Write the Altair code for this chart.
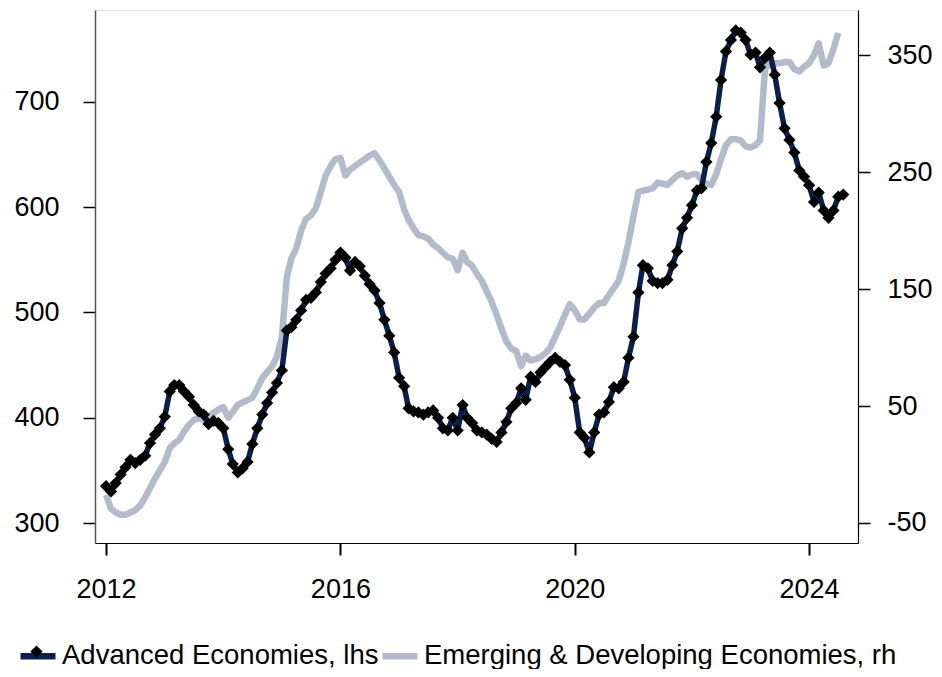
import altair as alt
import pandas as pd

ADV_LABEL = "Advanced Economies, lhs"
EMG_LABEL = "Emerging & Developing Economies, rh"

# Monthly values from Jan 2012
adv = [
    335, 330, 338, 346, 353, 360, 357, 360, 364, 376, 384, 390,   # 2012
    401, 425, 431, 431, 425, 420, 412, 406, 403, 394, 397, 395,   # 2013
    390, 370, 356, 348, 352, 358, 375, 390, 403, 414, 424, 433,   # 2014
    445, 483, 486, 493, 502, 512, 514, 519, 529, 537, 542, 550,   # 2015
    557, 552, 540, 548, 544, 535, 527, 521, 509, 493, 478, 462,   # 2016
    438, 430, 409, 406, 405, 403, 405, 407, 400, 390, 388, 400,   # 2017
    388, 412, 400, 395, 388, 386, 384, 380, 377, 386, 396, 409,   # 2018
    414, 428, 417, 439, 434, 443, 448, 453, 457, 453, 450, 436,   # 2019
    419, 386, 381, 367, 386, 403, 405, 415, 429, 428, 434, 457,   # 2020
    477, 519, 545, 542, 530, 528, 528, 531, 545, 558, 580, 590,   # 2021
    602, 616, 618, 643, 661, 686, 721, 748, 759, 768, 766, 759,   # 2022
    745, 747, 733, 742, 747, 726, 699, 675, 664, 652, 635, 629,   # 2023
    621, 605, 614, 597, 590, 597, 610, 612,                       # 2024
]

emg = [
    -26, -38, -41, -43, -43, -41, -39, -35, -28, -20, -12, -5,    # 2012
    2, 14, 18, 21, 28, 34, 38, 40, 38, 41, 44, 47,                # 2013
    49, 40, 45, 51, 53, 55, 57, 65, 74, 79, 84, 92,               # 2014
    109, 160, 176, 185, 200, 210, 213, 219, 233, 247, 255, 261,   # 2015
    262, 247, 252, 255, 258, 261, 264, 266, 260, 253, 246, 239,   # 2016
    233, 218, 209, 202, 196, 195, 193, 188, 185, 181, 177, 176,   # 2017
    166, 181, 173, 170, 163, 157, 148, 139, 128, 116, 105, 99,    # 2018
    97, 84, 93, 89, 90, 92, 95, 100, 109, 118, 128, 137,          # 2019
    132, 124, 124, 129, 134, 138, 138, 145, 151, 157, 172, 190,   # 2020
    212, 233, 234, 235, 236, 241, 240, 239, 243, 247, 249, 246,   # 2021
    248, 248, 243, 240, 239, 248, 261, 273, 278, 278, 277, 272,   # 2022
    271, 273, 277, 338, 343, 343, 343, 344, 344, 338, 336, 340,   # 2023
    343, 350, 360, 341, 343, 355, 369,                            # 2024
]

left_ticks = [300, 400, 500, 600, 700]
right_ticks = [-50, 50, 150, 250, 350]
year_ticks = [2012, 2016, 2020, 2024]

NAVY = "#0b1f4d"
GREY = "#b3bbcb"
FONT = "Liberation Sans"
FS = 27


def dates(n):
    return pd.date_range("2012-01-01", periods=n, freq="MS").strftime("%Y-%m-%dT00:00:00")


df_adv = pd.DataFrame({"date": dates(len(adv)), "value": adv, "series": ADV_LABEL, "mk": "m"})
df_emg = pd.DataFrame({"date": dates(len(emg)), "value": emg, "series": EMG_LABEL})

x_enc = alt.X(
    "date:T",
    scale=alt.Scale(domain=[alt.DateTime(year=2011, month=10, date=24),
                            alt.DateTime(year=2024, month=11, date=1)]),
    axis=alt.Axis(
        values=[alt.DateTime(year=y, month=1, date=1) for y in year_ticks],
        format="%Y", title=None, grid=False,
        domainColor="black", domainWidth=1.2,
        tickColor="black", tickWidth=2, tickSize=12,
        labelFont=FONT, labelFontSize=FS, labelColor="black", labelPadding=21,
    ),
)

color_enc = alt.Color(
    "series:N",
    scale=alt.Scale(domain=[ADV_LABEL, EMG_LABEL], range=[NAVY, GREY]),
    legend=alt.Legend(
        orient="none", legendX=-78, legendY=625, direction="horizontal",
        title=None, symbolType="stroke", symbolSize=1225, symbolStrokeWidth=6.5,
        labelFont=FONT, labelFontSize=27.5, labelColor="black", labelLimit=2000,
        columnPadding=-11, labelOffset=3, padding=0,
    ),
)

emg_line = alt.Chart(df_emg).mark_line(strokeWidth=6.5, strokeJoin="round").encode(
    x=x_enc,
    y=alt.Y("value:Q", scale=alt.Scale(domain=[-67.1, 388.5], nice=False, zero=False),
            axis=alt.Axis(orient="right", values=right_ticks, title=None, grid=False,
                          labelExpr="datum.value + ''",
                          domainColor="black", domainWidth=1.2,
                          tickColor="black", tickWidth=1.5, tickSize=12,
                          labelFont=FONT, labelFontSize=FS, labelColor="black",
                          labelPadding=17)),
    color=color_enc,
)

y_left = alt.Y("value:Q", scale=alt.Scale(domain=[281, 787.4], nice=False, zero=False),
               axis=alt.Axis(orient="left", values=left_ticks, title=None, grid=False,
                             domainColor="#555555", domainWidth=1.5,
                             tickColor="black", tickWidth=1.5, tickSize=12,
                             labelFont=FONT, labelFontSize=FS, labelColor="black",
                             labelPadding=24))

adv_line = alt.Chart(df_adv).mark_line(strokeWidth=5.5, strokeJoin="round").encode(
    x=x_enc, y=y_left, color=color_enc,
)

adv_pts = alt.Chart(df_adv).mark_point(filled=True, color="black", size=150, opacity=1).encode(
    x=x_enc, y=y_left,
    shape=alt.Shape("mk:N", scale=alt.Scale(domain=["m"], range=["diamond"]),
                    legend=alt.Legend(orient="none", legendX=-65, legendY=635,
                                      title=None, labelExpr="''", padding=0,
                                      symbolSize=150, symbolFillColor="black",
                                      symbolStrokeColor="black", symbolStrokeWidth=0,
                                      symbolOpacity=1)),
)

chart = alt.layer(emg_line, alt.layer(adv_line, adv_pts)).resolve_scale(
    y="independent"
).properties(
    width=763, height=533,
    autosize=alt.AutoSizeParams(type="none"),
    padding={"left": 87, "top": 2, "right": 76, "bottom": 126},
).configure_view(stroke=None).configure(background="white")

chart.save("out.html", embed_options={"renderer": "svg", "actions": False})
